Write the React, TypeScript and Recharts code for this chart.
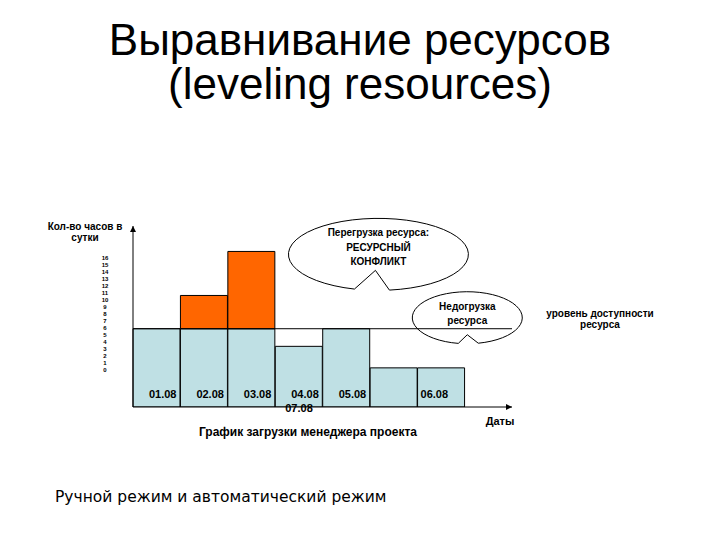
import React from "react";
import {
  BarChart,
  Bar,
  XAxis,
  YAxis,
  ReferenceLine,
  ReferenceDot,
} from "recharts";

// days on the schedule (category keys)
const DAYS = ["01.08", "02.08", "03.08", "04.08", "05.08", "06.08", "07.08"];
// planned hours within the available level
const LOAD = [8, 8, 8, 6.2, 8, 4, 4];
// hours above the available level (resource conflict)
const OVERLOAD = [0, 3.4, 7.9, 0, 0, 0, 0];
// labels as they are printed on the slide
const TICK_LABELS = ["01.08", "02.08", "03.08", "04.08", "05.08", "", "06.08"];
const SUB_LABELS = ["", "", "", "07.08", "", "", ""];
const SCALE_TICKS = [0, 1, 2, 3, 4, 5, 6, 7, 8, 9, 10, 11, 12, 13, 14, 15, 16];
const LEVEL = 8;

const rows = DAYS.map((day, i) => ({
  day,
  load: LOAD[i],
  overload: OVERLOAD[i],
}));

const SANS = '"Liberation Sans", Arial, sans-serif';
const BLUE = "#BFE0E4";
const ORANGE = "#FF6600";

const CALLOUTS = [
  {
    x: "05.08",
    y: 15.6,
    dx: 32,
    dy: 0,
    rx: 90,
    ry: 36,
    notch: { left: -24, right: 11, px: -3, py: 16 },
    lines: ["Перегрузка ресурса:", "РЕСУРСНЫЙ", "КОНФЛИКТ"],
    lineY: [-22, -7, 7],
  },
  {
    x: "07.08",
    y: LEVEL,
    dx: 26,
    dy: -11,
    rx: 55,
    ry: 26,
    notch: { left: -9, right: 11, px: 0, py: 17 },
    lines: ["Недогрузка", "ресурса"],
    lineY: [-11, 3],
  },
];

function calloutShape(spec: (typeof CALLOUTS)[number]) {
  return (props: any) => {
    const cx = props.cx + spec.dx;
    const cy = props.cy + spec.dy;
    const { rx, ry, notch } = spec;
    const yAt = (off: number) => cy + ry * Math.sqrt(1 - (off / rx) ** 2);
    const lx = cx + notch.left;
    const rxp = cx + notch.right;
    const d = `M${rxp},${yAt(notch.right)} A${rx},${ry} 0 1 0 ${lx},${yAt(
      notch.left
    )} L${cx + notch.px},${cy + notch.py} Z`;
    return (
      <g>
        <path d={d} fill="none" stroke="#000" strokeWidth={1} />
        {spec.lines.map((t, i) => (
          <text
            key={i}
            x={cx}
            y={cy + spec.lineY[i]}
            textAnchor="middle"
            dominantBaseline="central"
            fontFamily={SANS}
            fontWeight="bold"
            fontSize={10}
            fill="#000"
          >
            {t}
          </text>
        ))}
      </g>
    );
  };
}

function DateTick({ x, y, index }: any) {
  const top = TICK_LABELS[index];
  const sub = SUB_LABELS[index];
  const shift = index === 6 ? -7 : 6;
  const style = {
    fontFamily: SANS,
    fontWeight: "bold" as const,
    fontSize: 11,
    fill: "#000",
  };
  return (
    <g>
      {top && (
        <text x={x + shift} y={y - 9} textAnchor="middle" {...style}>
          {top}
        </text>
      )}
      {sub && (
        <text x={x} y={y + 5} textAnchor="middle" {...style}>
          {sub}
        </text>
      )}
    </g>
  );
}

function ScaleTick({ x, y, payload }: any) {
  return (
    <text
      x={x - 12}
      y={y}
      textAnchor="middle"
      dominantBaseline="central"
      fontFamily={SANS}
      fontWeight="bold"
      fontSize={6}
      fill="#000"
    >
      {payload.value}
    </text>
  );
}

const label = (
  text: React.ReactNode,
  style: React.CSSProperties
): React.ReactElement => (
  <div
    style={{
      position: "absolute",
      fontFamily: SANS,
      fontWeight: "bold",
      fontSize: 10,
      lineHeight: "11px",
      color: "#000",
      textAlign: "center",
      whiteSpace: "nowrap",
      ...style,
    }}
  >
    {text}
  </div>
);

const titleLine: React.CSSProperties = {
  position: "absolute",
  left: 0,
  width: 720,
  textAlign: "center",
  fontFamily: SANS,
  fontSize: 44,
  lineHeight: "43px",
  color: "#000",
  whiteSpace: "nowrap",
};

export default function App() {
  return (
    <div
      style={{
        position: "absolute",
        left: 0,
        top: 0,
        width: 720,
        height: 540,
        background: "#fff",
        overflow: "hidden",
      }}
    >
      <svg width={0} height={0} style={{ position: "absolute" }}>
        <defs>
          <marker
            id="axisArrow"
            viewBox="0 0 10 10"
            refX={10}
            refY={5}
            markerWidth={7}
            markerHeight={6}
            markerUnits="userSpaceOnUse"
            orient="auto-start-reverse"
          >
            <path d="M0,0 L10,5 L0,10 z" fill="#000" />
          </marker>
        </defs>
      </svg>

      <div style={{ ...titleLine, top: 18 }}>Выравнивание ресурсов</div>
      <div style={{ ...titleLine, top: 62 }}>(leveling resources)</div>

      <div style={{ position: "absolute", left: 0, top: 0 }}>
        <BarChart
          width={720}
          height={540}
          data={rows}
          margin={{ top: 226, right: 208, bottom: 113, left: 77 }}
          barCategoryGap={0}
          barGap={0}
        >
          <YAxis
            yAxisId="hours"
            type="number"
            domain={[0, 18.5]}
            allowDataOverflow
            width={16}
            tick={false}
            tickLine={false}
            axisLine={{ stroke: "#000", markerStart: "url(#axisArrow)" }}
          />
          <YAxis
            yAxisId="scale"
            type="number"
            domain={[-5.3, 20.6]}
            allowDataOverflow
            ticks={SCALE_TICKS}
            interval={0}
            width={40}
            tickSize={0}
            tickMargin={0}
            tickLine={false}
            axisLine={false}
            tick={<ScaleTick />}
          />
          <Bar
            yAxisId="hours"
            dataKey="load"
            stackId="day"
            fill={BLUE}
            stroke="#000"
            strokeWidth={1}
            isAnimationActive={false}
          />
          <Bar
            yAxisId="hours"
            dataKey="overload"
            stackId="day"
            fill={ORANGE}
            stroke="#000"
            strokeWidth={1}
            isAnimationActive={false}
          />
          <ReferenceLine
            yAxisId="hours"
            y={LEVEL}
            stroke="#000"
            strokeWidth={1}
          />
          <XAxis
            dataKey="day"
            height={20}
            padding={{ left: 0, right: 47 }}
            interval={0}
            tickSize={0}
            tickMargin={0}
            tickLine={false}
            axisLine={{ stroke: "#000", markerEnd: "url(#axisArrow)" }}
            tick={<DateTick />}
          />
          {CALLOUTS.map((c, i) => (
            <ReferenceDot
              key={i}
              yAxisId="hours"
              x={c.x}
              y={c.y}
              ifOverflow="visible"
              shape={calloutShape(c)}
            />
          ))}
        </BarChart>
      </div>

      {label(
        <>
          Кол-во часов в
          <br />
          сутки
        </>,
        { left: 35, top: 221, width: 100 }
      )}
      {label(
        <>
          уровень доступности
          <br />
          ресурса
        </>,
        { left: 540, top: 308, width: 120 }
      )}
      {label("Даты", { left: 480, top: 416, width: 40, fontSize: 11 })}
      {label("График загрузки менеджера проекта", {
        left: 158,
        top: 426,
        width: 300,
        fontSize: 12,
        lineHeight: "12px",
      })}

      <div
        style={{
          position: "absolute",
          left: 55,
          top: 489,
          fontFamily: '"DejaVu Sans", sans-serif',
          fontSize: 15.5,
          lineHeight: "16px",
          color: "#000",
          whiteSpace: "nowrap",
        }}
      >
        Ручной режим и автоматический режим
      </div>
    </div>
  );
}
